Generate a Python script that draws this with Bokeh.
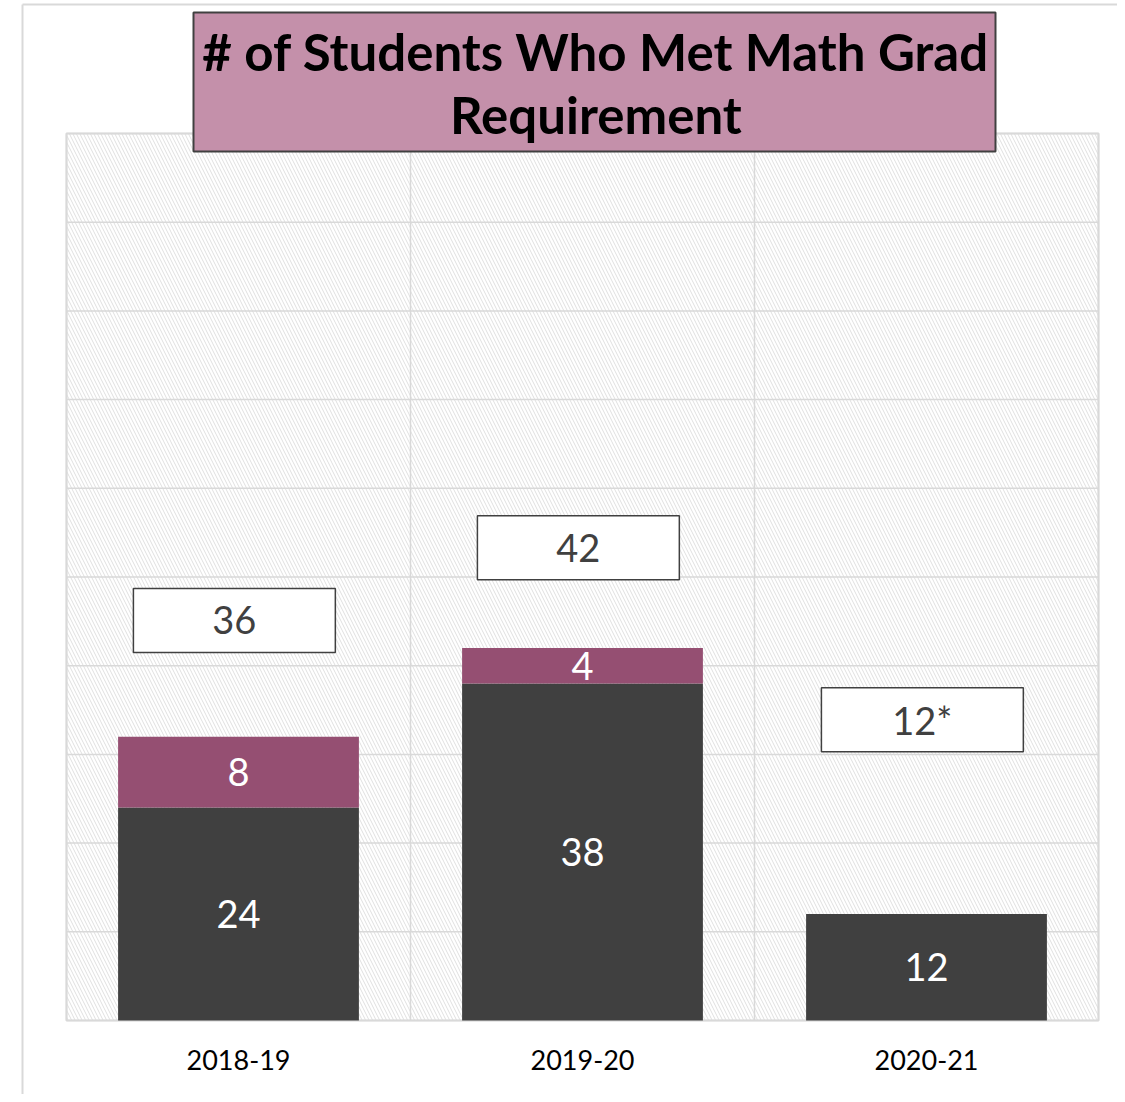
from bokeh.plotting import figure
from bokeh.models import Range1d, FixedTicker
from bokeh.embed import file_html
from bokeh.resources import INLINE
from bokeh.core.properties import value

# ---- data ----
years = ["2018-19", "2019-20", "2020-21"]
met_main = [24, 38, 12]
met_extra = [8, 4, 0]
total_labels = ["36", "42", "12*"]
title_text = "# of Students Who Met Math Grad\nRequirement"
y_ticks = list(range(0, 101, 10))

# ---- layout (not data) ----
total_box_y = [45.1, 53.3, 33.9]
FONT = "Lato"
DARK = "#404040"
PURPLE = "#954F72"
GRID = "#d9d9d9"

W, H = 1117, 1094
# plot area in canvas px: left 66, right 1098, top 133, bottom 1020
PX_X = 344.0   # px per category
PX_Y = 8.87    # px per unit
x_lo, x_hi = -66 / PX_X, (W - 66) / PX_X
y_hi, y_lo = 1020 / PX_Y, (1020 - H) / PX_Y

p = figure(width=W, height=H, x_range=Range1d(x_lo, x_hi), y_range=Range1d(y_lo, y_hi),
           output_backend="svg", toolbar_location=None,
           min_border=0, min_border_left=0, min_border_right=0, min_border_top=0, min_border_bottom=0)
p.outline_line_color = None
p.background_fill_color = "white"
p.border_fill_color = "white"
p.grid.visible = False
p.yaxis.visible = False

n = len(years)
xs = [i + 0.5 for i in range(n)]

# hatched plot area
p.quad(left=0, right=n, bottom=y_ticks[0], top=y_ticks[-1], fill_color="white",
       hatch_pattern="\\", hatch_color="#e0e0e0", hatch_scale=7, hatch_weight=1,
       line_color=None)
# grid lines
p.segment(x0=[0] * len(y_ticks), x1=[n] * len(y_ticks), y0=y_ticks, y1=y_ticks,
          line_color=GRID, line_width=1.5)
p.segment(x0=list(range(n + 1)), x1=list(range(n + 1)), y0=[y_ticks[0]] * (n + 1),
          y1=[y_ticks[-1]] * (n + 1), line_color=GRID, line_width=1.5)
# plot area border
p.quad(left=0, right=n, bottom=y_ticks[0], top=y_ticks[-1], fill_color=None,
       line_color=GRID, line_width=2)

# outer chart border (partially visible)
bx = (22 - 66) / PX_X
by = (1020 - 4) / PX_Y
p.segment(x0=[bx, bx], y0=[by, by], x1=[x_hi + 1, bx], y1=[by, y_lo - 1],
          line_color=GRID, line_width=2)

# bars
tops_extra = [a + b for a, b in zip(met_main, met_extra)]
p.vbar(x=xs, top=met_main, bottom=0, width=0.7, fill_color=DARK, line_color=None)
p.vbar(x=xs, top=tops_extra, bottom=met_main, width=0.7, fill_color=PURPLE, line_color=None)

# in-bar labels
lab_x, lab_y, lab_t = [], [], []
for xv, a, b in zip(xs, met_main, met_extra):
    if a > 0:
        lab_x.append(xv); lab_y.append(a / 2); lab_t.append(str(a))
    if b > 0:
        lab_x.append(xv); lab_y.append(a + b / 2); lab_t.append(str(b))
p.text(x=lab_x, y=lab_y, text=lab_t, text_color="white", text_font=value(FONT),
       text_font_size="38px", text_align="center", text_baseline="middle")

# total boxes
box_x = [xv - 0.012 for xv in xs]
p.rect(x=box_x, y=total_box_y, width=0.587, height=64, height_units="screen",
       fill_color="white", line_color=DARK, line_width=1.5)
p.text(x=box_x, y=total_box_y, text=total_labels, text_color=DARK, text_font=value(FONT),
       text_font_size="38px", text_align="center", text_baseline="middle")

# title box
t_left, t_right = (193 - 66) / PX_X, (995 - 66) / PX_X
t_top, t_bot = (1020 - 12) / PX_Y, (1020 - 151) / PX_Y
p.quad(left=t_left, right=t_right, top=t_top, bottom=t_bot, fill_color="#C490AA",
       line_color=DARK, line_width=2)
p.text(x=[(t_left + t_right) / 2 + 0.004], y=[(t_top + t_bot) / 2 - 0.12], text=[title_text],
       text_font=value(FONT), text_font_style="bold", text_font_size="51px",
       text_color="black", text_align="center", text_baseline="middle",
       text_line_height=1.04)

# x axis (fixed at y=0 inside the frame)
p.xaxis.fixed_location = 0
p.xaxis.ticker = FixedTicker(ticks=xs)
p.xaxis.major_label_overrides = {xv: yr for xv, yr in zip(xs, years)}
p.xaxis.axis_line_color = None
p.xaxis.major_tick_line_color = None
p.xaxis.minor_tick_line_color = None
p.xaxis.major_label_text_font = FONT
p.xaxis.major_label_text_font_size = "27px"
p.xaxis.major_label_text_color = "black"
p.xaxis.major_label_standoff = 23

open("out.html", "w").write(file_html(p, INLINE))
